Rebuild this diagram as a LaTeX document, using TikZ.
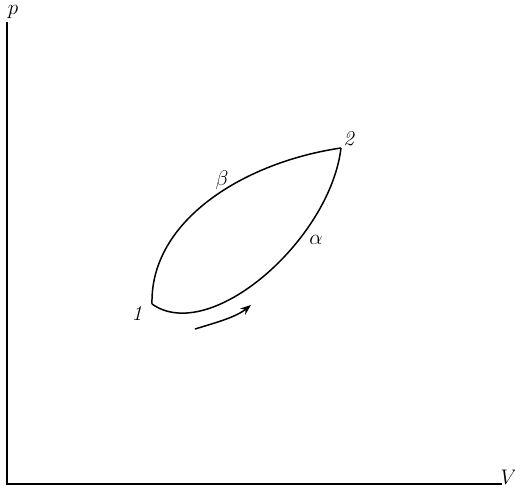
\documentclass[tikz,border=0pt]{standalone}
\usepackage{amsmath,amssymb}
\usepackage{xcolor}
\usetikzlibrary{arrows.meta}

\begin{document}
\begin{tikzpicture}[x=0.02cm, y=-0.02cm, >=Stealth,
    axis/.style={line width=1.1pt},
    cycle/.style={line width=0.85pt},
    lbl/.style={inner sep=1pt, font=\large}]
    \useasboundingbox (0,0) rectangle (515,488);

    % Axes
    \coordinate (O) at (7,484);
    \coordinate (Ptop) at (7,22);
    \coordinate (Vend) at (502,484);
    \draw[axis] (Ptop) -- (O) -- (Vend);
    \node[lbl] (plbl) at (13,12) {$p$};
    \node[lbl] (Vlbl) at (509,477) {$V$};

    % States
    \coordinate (S1) at (152,304);
    \coordinate (S2) at (341,148);
    \node[lbl] (n1) at (137,313) {\textit{1}};
    \node[lbl] (n2) at (349,139) {\textit{2}};

    % Paths alpha and beta
    \draw[cycle] (S1) .. controls (150,220) and (245,162) .. (S2);
    \draw[cycle] (S1) .. controls (210,345) and (330,240) .. (S2);
    \node[lbl] (beta) at (222,180) {$\beta$};
    \node[lbl] (alpha) at (316,240) {$\alpha$};

    % Direction
    \coordinate (A1) at (195,329);
    \coordinate (A2) at (251,305);
    \draw[cycle, -{Stealth[length=6pt, width=4.5pt]}] (A1) .. controls (218,322) and (236,317) .. (A2);
\end{tikzpicture}
\end{document}
